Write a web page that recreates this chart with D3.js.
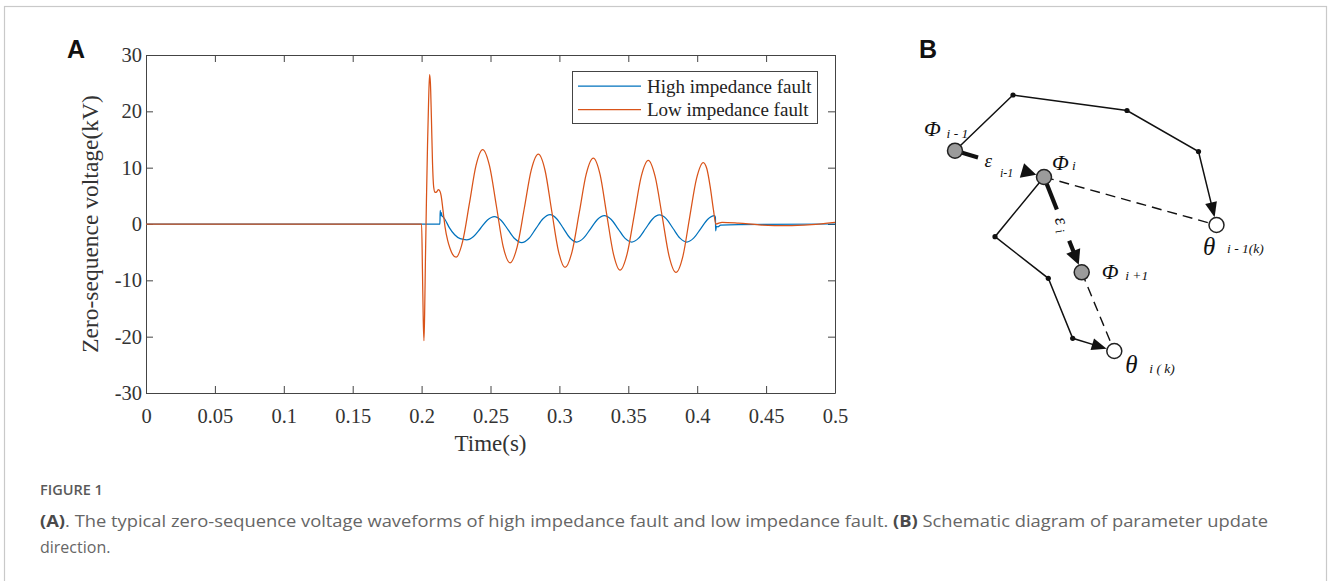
<!DOCTYPE html>
<html>
<head>
<meta charset="utf-8">
<script src="https://cdn.jsdelivr.net/npm/d3@7/dist/d3.min.js"></script>
<style>
  body { margin: 0; background: #fff; }
  svg { display: block; }
</style>
</head>
<body>
<script>
// ---- data (time in s, voltage in kV) ----
const highImpedance = [
  [0, 0], [0.2133, 0], [0.2135, 2.4], [0.2139, 1.5], [0.2143, 2.0], [0.2148, 1.4], [0.2155, 1.3],
  [0.2170, 0.8], [0.2200, -0.6], [0.2240, -1.9], [0.2280, -2.6], [0.2327, -2.8],
  [0.2377, -2.2], [0.2428, -0.75], [0.2478, 0.7], [0.2528, 1.3],
  [0.2578, 0.63], [0.2627, -1.0], [0.2677, -2.63], [0.2726, -3.3],
  [0.2778, -2.58], [0.2829, -0.83], [0.2881, 0.93], [0.2932, 1.65],
  [0.2980, 0.94], [0.3029, -0.78], [0.3077, -2.49], [0.3125, -3.2],
  [0.3175, -2.51], [0.3226, -0.85], [0.3276, 0.81], [0.3326, 1.5],
  [0.3376, 0.81], [0.3426, -0.85], [0.3475, -2.51], [0.3525, -3.2],
  [0.3575, -2.5], [0.3626, -0.8], [0.3676, 0.9], [0.3726, 1.6],
  [0.3776, 0.9], [0.3825, -0.8], [0.3875, -2.5], [0.3924, -3.2],
  [0.3974, -2.51], [0.4025, -0.85], [0.4075, 0.81], [0.4125, 1.5],
  [0.4132, 1.2], [0.4134, -1.2], [0.4140, -0.4], [0.4150, -0.5], [0.4170, -0.2],
  [0.4300, -0.1], [0.5000, 0]
];

const lowImpedance = [
  [0, 0], [0.2000, 0], [0.2006, -8], [0.2012, -17], [0.2017, -20.7], [0.2022, -16], [0.2028, -6],
  [0.2035, 4], [0.2043, 14], [0.2051, 22], [0.2058, 26.5], [0.2064, 25], [0.2071, 19], [0.2079, 11],
  [0.2088, 6.5], [0.2098, 5.6], [0.2110, 5.7], [0.2122, 6.1], [0.2133, 5.8], [0.2142, 5.0],
  [0.2155, 2.5], [0.2170, -0.5], [0.2190, -3.0], [0.2206, -4.3], [0.2225, -5.4], [0.2250, -5.9],
  [0.2298, -3.1], [0.2347, 3.65], [0.2395, 10.4], [0.2443, 13.2],
  [0.2493, 10.3], [0.2543, 3.15], [0.2592, -4.0], [0.2642, -6.9],
  [0.2693, -4.1], [0.2745, 2.75], [0.2796, 9.6], [0.2847, 12.4],
  [0.2896, 9.5], [0.2944, 2.35], [0.2993, -4.8], [0.3041, -7.7],
  [0.3092, -4.9], [0.3144, 2.0], [0.3195, 8.9], [0.3246, 11.7],
  [0.3295, 8.8], [0.3343, 1.75], [0.3392, -5.3], [0.3440, -8.2],
  [0.3491, -5.35], [0.3543, 1.55], [0.3594, 8.45], [0.3645, 11.3],
  [0.3695, 8.4], [0.3746, 1.35], [0.3796, -5.7], [0.3846, -8.6],
  [0.3896, -5.75], [0.3945, 1.15], [0.3995, 8.05], [0.4044, 10.9],
  [0.4070, 9.8], [0.4095, 6.5], [0.4118, 2.5], [0.4135, 0],
  [0.4180, 0.3], [0.4300, 0.15], [0.4450, -0.15], [0.4650, -0.3], [0.4830, -0.1], [0.5000, 0.3]
];

const seriesNames = ["High impedance fault", "Low impedance fault"];
const seriesColors = ["#0072BD", "#D95319"];

const xTickValues = [0, 0.05, 0.1, 0.15, 0.2, 0.25, 0.3, 0.35, 0.4, 0.45, 0.5];
const xTickLabels = ["0", "0.05", "0.1", "0.15", "0.2", "0.25", "0.3", "0.35", "0.4", "0.45", "0.5"];
const yTickValues = [-30, -20, -10, 0, 10, 20, 30];
const yTickLabels = ["-30", "-20", "-10", "0", "10", "20", "30"];

// panel B schematic: node positions in diagram units
const schemeNodes = [
  { id: "phiPrev", kind: "phi", x: 35, y: 110.7 },
  { id: "a1", kind: "dot", x: 93, y: 55 },
  { id: "a2", kind: "dot", x: 207, y: 70.5 },
  { id: "a3", kind: "dot", x: 278.5, y: 111.5 },
  { id: "thetaPrev", kind: "theta", x: 296.5, y: 185 },
  { id: "phi", kind: "phi", x: 124, y: 137 },
  { id: "b1", kind: "dot", x: 75, y: 196.7 },
  { id: "b2", kind: "dot", x: 128.3, y: 238.3 },
  { id: "b3", kind: "dot", x: 152.7, y: 298.3 },
  { id: "theta", kind: "theta", x: 194.3, y: 311 },
  { id: "phiNext", kind: "phi", x: 161.7, y: 232.3 }
];
const schemePaths = [
  ["phiPrev", "a1", "a2", "a3", "thetaPrev"],
  ["phi", "b1", "b2", "b3", "theta"]
];
const schemeDashed = [["phi", "thetaPrev"], ["phiNext", "theta"]];
const schemeSteps = [["phiPrev", "phi"], ["phi", "phiNext"]];
const schemeLabels = [
  { node: "phiPrev", main: "Φ", sub: "i - 1" },
  { node: "phi", main: "Φ", sub: "i" },
  { node: "phiNext", main: "Φ", sub: "i +1" },
  { node: "theta", main: "θ", sub: "i ( k)" },
  { node: "thetaPrev", main: "θ", sub: "i - 1(k)" }
];

// ---- layout ----
const W = 1328, H = 581;
const plot = { left: 146, right: 835, top: 55, bottom: 393 };
const serif = "'Liberation Serif', 'Times New Roman', serif";
const axisColor = "#444";

const svg = d3.select("body").append("svg")
    .attr("width", W)
    .attr("height", H)
    .attr("viewBox", `0 0 ${W} ${H}`);

// card frame
svg.append("rect")
    .attr("x", 4.5).attr("y", 6.5)
    .attr("width", 1322).attr("height", 620)
    .attr("fill", "none")
    .attr("stroke", "#c9c9c9")
    .attr("stroke-width", 1.2);

// ---- panel A ----
const x = d3.scaleLinear().domain([0, 0.5]).range([plot.left, plot.right]);
const y = d3.scaleLinear().domain([-30, 30]).range([plot.bottom, plot.top]);

function styleAxis(g) {
  g.select(".domain").attr("stroke", axisColor).attr("stroke-width", 1);
  g.selectAll(".tick line").attr("stroke", axisColor);
  g.selectAll(".tick text")
    .attr("fill", "#333")
    .style("font-family", serif)
    .style("font-size", "20.5px");
}

svg.append("g")
    .attr("transform", `translate(0,${plot.bottom})`)
    .call(d3.axisBottom(x).tickValues(xTickValues).tickFormat((d, i) => xTickLabels[i])
      .tickSize(-7).tickSizeOuter(0).tickPadding(15))
    .call(styleAxis);

svg.append("g")
    .attr("transform", `translate(0,${plot.top})`)
    .call(d3.axisTop(x).tickValues(xTickValues).tickFormat("").tickSize(-7).tickSizeOuter(0))
    .call(styleAxis);

svg.append("g")
    .attr("transform", `translate(${plot.left},0)`)
    .call(d3.axisLeft(y).tickValues(yTickValues).tickFormat((d, i) => yTickLabels[i])
      .tickSize(-7).tickSizeOuter(0).tickPadding(4))
    .call(styleAxis);

svg.append("g")
    .attr("transform", `translate(${plot.right},0)`)
    .call(d3.axisRight(y).tickValues(yTickValues).tickFormat("").tickSize(-7).tickSizeOuter(0))
    .call(styleAxis);

const line = d3.line()
    .x(d => x(d[0]))
    .y(d => y(d[1]))
    .curve(d3.curveMonotoneX);

[highImpedance, lowImpedance].forEach((series, i) => {
  svg.append("path")
      .datum(series)
      .attr("fill", "none")
      .attr("stroke", seriesColors[i])
      .attr("stroke-width", 1.25)
      .attr("stroke-linejoin", "round")
      .attr("d", line);
});

// legend
const legend = svg.append("g").attr("transform", "translate(572,71)");
legend.append("rect")
    .attr("x", 0.5).attr("y", 0.5)
    .attr("width", 245).attr("height", 52)
    .attr("fill", "#fff")
    .attr("stroke", axisColor);
seriesNames.forEach((name, i) => {
  const row = legend.append("g").attr("transform", `translate(0,${15 + i * 23.5})`);
  row.append("line")
      .attr("x1", 6).attr("x2", 69)
      .attr("stroke", seriesColors[i])
      .attr("stroke-width", 1.25);
  row.append("text")
      .attr("x", 75).attr("y", 6.5)
      .attr("fill", "#222")
      .style("font-family", serif)
      .style("font-size", "19px")
      .text(name);
});

// axis labels
svg.append("text")
    .attr("x", (plot.left + plot.right) / 2)
    .attr("y", 451)
    .attr("text-anchor", "middle")
    .attr("fill", "#333")
    .style("font-family", serif)
    .style("font-size", "23px")
    .text("Time(s)");

svg.append("text")
    .attr("transform", "rotate(-90)")
    .attr("x", -(plot.top + plot.bottom) / 2)
    .attr("y", 98)
    .attr("text-anchor", "middle")
    .attr("fill", "#333")
    .style("font-family", serif)
    .style("font-size", "23.5px")
    .text("Zero-sequence voltage(kV)");

// panel letters
[["A", 67], ["B", 919]].forEach(([t, px]) => {
  svg.append("text")
      .attr("x", px).attr("y", 57.5)
      .attr("fill", "#111")
      .style("font-family", "'Liberation Sans', Arial, sans-serif")
      .style("font-weight", "bold")
      .style("font-size", "25px")
      .text(t);
});

// ---- panel B ----
const bx = d3.scaleLinear().domain([0, 400]).range([920, 1320]);
const by = d3.scaleLinear().domain([0, 400]).range([40, 440]);
const nodeById = new Map(schemeNodes.map(d => [d.id, d]));
const P = id => { const n = nodeById.get(id); return [bx(n.x), by(n.y)]; };
const bigR = 7.5;

function headPath(tip, ux, uy, len, half) {
  const bxp = tip[0] - ux * len, byp = tip[1] - uy * len;
  return `M${tip[0]},${tip[1]}L${bxp - uy * half},${byp + ux * half}L${bxp + uy * half},${byp - ux * half}Z`;
}

const gB = svg.append("g");

// dashed links
schemeDashed.forEach(([a, b]) => {
  const p = P(a), q = P(b);
  gB.append("line")
      .attr("x1", p[0]).attr("y1", p[1]).attr("x2", q[0]).attr("y2", q[1])
      .attr("stroke", "#111")
      .attr("stroke-width", 1.4)
      .attr("stroke-dasharray", "10,6");
});

// solid polylines ending with an arrow on the target circle
schemePaths.forEach(ids => {
  const pts = ids.map(P);
  const last = pts[pts.length - 1], prev = pts[pts.length - 2];
  const dx = last[0] - prev[0], dy = last[1] - prev[1];
  const L = Math.hypot(dx, dy), ux = dx / L, uy = dy / L;
  const tip = [last[0] - ux * (bigR + 0.5), last[1] - uy * (bigR + 0.5)];
  const headLen = 15;
  const lineEnd = [tip[0] - ux * (headLen - 2), tip[1] - uy * (headLen - 2)];
  const shaft = pts.slice(0, -1).concat([lineEnd]);
  gB.append("path")
      .attr("d", d3.line()(shaft))
      .attr("fill", "none")
      .attr("stroke", "#111")
      .attr("stroke-width", 1.5)
      .attr("stroke-linejoin", "miter");
  gB.append("path")
      .attr("d", headPath(tip, ux, uy, headLen, 6))
      .attr("fill", "#111");
});

// thick step arrows between Φ positions
schemeSteps.forEach(([a, b], i) => {
  const p = P(a), q = P(b);
  const dx = q[0] - p[0], dy = q[1] - p[1];
  const L = Math.hypot(dx, dy), ux = dx / L, uy = dy / L;
  const at = t => [p[0] + ux * t, p[1] + uy * t];
  const stub = i === 0 ? [bigR, 24] : [bigR - 0.5, 35];
  const shaftStart = i === 0 ? L - 22 : L - 34;
  const tipD = L - bigR - 0.5;
  const headLen = 15;
  gB.append("path")
      .attr("d", d3.line()([at(stub[0]), at(stub[1])]))
      .attr("stroke", "#111").attr("stroke-width", 4.2);
  gB.append("path")
      .attr("d", d3.line()([at(shaftStart), at(tipD - headLen + 2)]))
      .attr("stroke", "#111").attr("stroke-width", 4.2);
  gB.append("path")
      .attr("d", headPath(at(tipD), ux, uy, headLen, 7.5))
      .attr("fill", "#111");
});

// nodes
gB.selectAll("circle.node")
  .data(schemeNodes)
  .join("circle")
    .attr("class", "node")
    .attr("cx", d => bx(d.x))
    .attr("cy", d => by(d.y))
    .attr("r", d => d.kind === "dot" ? 2.6 : bigR)
    .attr("fill", d => d.kind === "phi" ? "#9b9b9b" : d.kind === "theta" ? "#fff" : "#111")
    .attr("stroke", d => d.kind === "dot" ? "none" : "#222")
    .attr("stroke-width", 1.5);

// node labels: main symbol and subscript placed relative to their node
const labelOffsets = {
  phiPrev: { dx: -31, dy: -14.5, sx: -8.5, sy: -12.5 },
  phi: { dx: 8, dy: -7.5, sx: 28, sy: -7.5 },
  phiNext: { dx: 20, dy: 7, sx: 43.5, sy: 8 },
  theta: { dx: 11, dy: 22, sx: 35, sy: 22 },
  thetaPrev: { dx: -13.5, dy: 30, sx: 10.5, sy: 28 }
};
schemeLabels.forEach(l => {
  const p = P(l.node), o = labelOffsets[l.node];
  const g = gB.append("g")
      .attr("fill", "#111")
      .style("font-family", serif)
      .style("font-style", "italic");
  g.append("text")
      .attr("x", p[0] + o.dx).attr("y", p[1] + o.dy)
      .style("font-size", l.main === "θ" ? "25px" : "22px")
      .text(l.main);
  g.append("text")
      .attr("x", p[0] + o.sx).attr("y", p[1] + o.sy)
      .style("font-size", "13.5px")
      .text(l.sub);
});

// gradient labels ε
{
  const p = P("phiPrev");
  const g = gB.append("g")
      .attr("fill", "#111")
      .style("font-family", serif)
      .style("font-style", "italic");
  g.append("text")
      .attr("x", p[0] + 29.5).attr("y", p[1] + 16)
      .style("font-size", "19px").text("ε");
  g.append("text")
      .attr("x", p[0] + 45).attr("y", p[1] + 26)
      .style("font-size", "12px").text("i-1");

  const q = P("phi");
  const t2 = gB.append("text")
      .attr("transform", `translate(${q[0] + 10.5},${q[1] + 42}) rotate(72)`)
      .attr("fill", "#111")
      .style("font-family", serif)
      .style("font-style", "italic");
  t2.append("tspan").style("font-size", "19px").text("ε");
  t2.append("tspan").attr("dx", 4).attr("dy", 3).style("font-size", "13px").text("i");
}

// ---- caption ----
const cap = svg.append("g").style("font-family", "'Open Sans', 'Noto Sans', sans-serif").attr("fill", "#666");
cap.append("text")
    .attr("x", 40).attr("y", 495)
    .style("font-size", "14.5px")
    .style("font-weight", 600)
    .attr("fill", "#5a5a5a")
    .text("FIGURE 1");
const c1 = cap.append("text")
    .attr("x", 40).attr("y", 527)
    .attr("textLength", 1228)
    .attr("lengthAdjust", "spacingAndGlyphs")
    .style("font-size", "16px");
c1.append("tspan").style("font-weight", 700).attr("fill", "#4a4a4a").text("(A)");
c1.append("tspan").text(". The typical zero-sequence voltage waveforms of high impedance fault and low impedance fault. ");
c1.append("tspan").style("font-weight", 700).attr("fill", "#4a4a4a").text("(B)");
c1.append("tspan").text(" Schematic diagram of parameter update");
cap.append("text")
    .attr("x", 40).attr("y", 553)
    .style("font-size", "16px")
    .text("direction.");
</script>
</body>
</html>
